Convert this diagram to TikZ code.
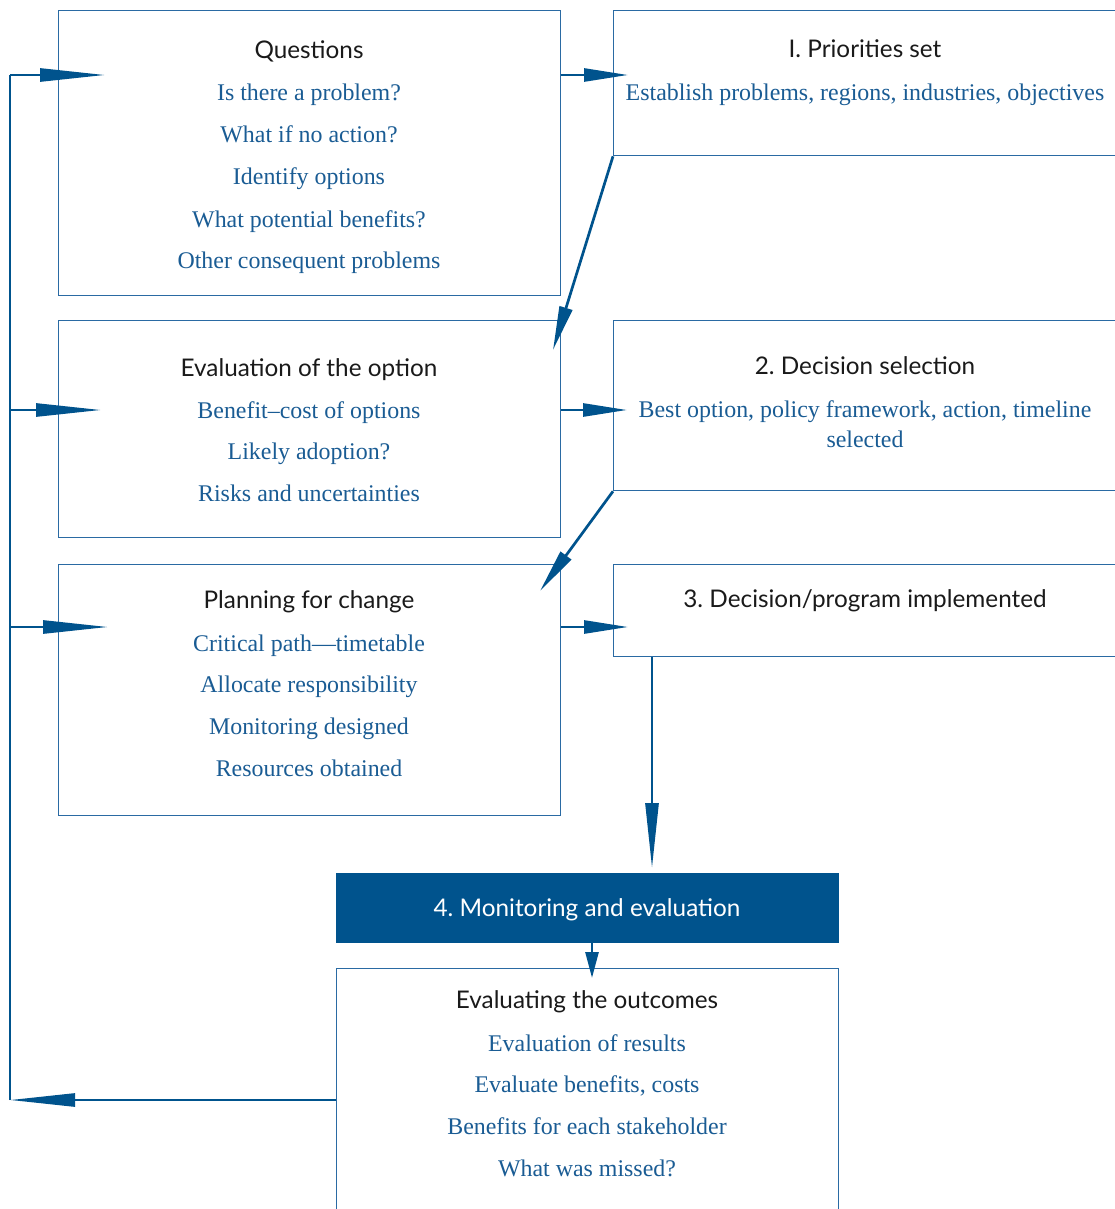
\documentclass[tikz,border=0pt]{standalone}
\usepackage{fontspec}
\setmainfont{Liberation Serif}
\newfontfamily\headfont{Lato}
\usetikzlibrary{arrows.meta}
\definecolor{dblue}{HTML}{00538D}
\definecolor{bblue}{HTML}{2A6AA3}
\definecolor{tblue}{HTML}{1A5C94}
\definecolor{hgray}{HTML}{1A1A1A}
\newcommand{\numsp}{\hspace{0.26em}}
\begin{document}
\begin{tikzpicture}[x=1pt,y=-1pt,
  box/.style={draw=bblue, line width=1.3pt, inner sep=0pt, anchor=north west},
  fbox/.style={fill=dblue, draw=dblue, line width=1.3pt, inner sep=0pt, anchor=north west},
  head/.style={font=\headfont\fontsize{24.3}{28}\selectfont, text=hgray, inner sep=0pt, anchor=base},
  body/.style={font=\fontsize{23.9}{28}\selectfont, text=tblue, inner sep=0pt, anchor=base},
  wire/.style={draw=dblue, line width=2.7pt},
  sarr/.style={wire, -{Triangle[length=44pt,width=13pt]}},
  larr/.style={wire, -{Triangle[length=65pt,width=13pt]}},
  marr/.style={wire, -{Triangle[length=26pt,width=13pt]}}]
\useasboundingbox (0,0) rectangle (1115,1209);
\clip (0,0) rectangle (1115,1209);
\fill[white] (0,0) rectangle (1115,1209);

% boxes
\node[box, minimum width=502pt, minimum height=285pt] (q) at (58,10) {};
\node[box, minimum width=520pt, minimum height=145pt] (p1) at (613,10) {};
\node[box, minimum width=502pt, minimum height=217pt] (ev) at (58,320) {};
\node[box, minimum width=520pt, minimum height=170pt] (p2) at (613,320) {};
\node[box, minimum width=502pt, minimum height=251pt] (pl) at (58,564) {};
\node[box, minimum width=520pt, minimum height=92pt] (p3) at (613,564) {};
\node[fbox, minimum width=502pt, minimum height=69pt] (mo) at (336,873) {};
\node[box, minimum width=502pt, minimum height=280pt] (eo) at (336,968) {};

% Questions
\node[head] (qh) at (309,59) {Questions};
\node[body] (q1) at (309,101) {Is there a problem?};
\node[body] (q2) at (309,143) {What if no action?};
\node[body] (q3) at (309,185) {Identify options};
\node[body] (q4) at (309,227) {What potential benefits?};
\node[body] (q5) at (309,268) {Other consequent problems};
% Priorities
\node[head] (p1h) at (865,58) {I.\numsp Priorities set};
\node[body] (p1a) at (865,101) {Establish problems, regions, industries, objectives};
% Evaluation
\node[head] (evh) at (309,376) {Evaluation of the option};
\node[body] (ev1) at (309,418) {Benefit–cost of options};
\node[body] (ev2) at (309,459) {Likely adoption?};
\node[body] (ev3) at (309,501) {Risks and uncertainties};
% Decision selection
\node[head] (p2h) at (865,374) {2.\numsp Decision selection};
\node[body] (p2a) at (865,417) {Best option, policy framework, action, timeline};
\node[body] (p2b) at (865,447) {selected};
% Planning
\node[head] (plh) at (309,608) {Planning for change};
\node[body] (pl1) at (309,651) {Critical path—timetable};
\node[body] (pl2) at (309,692) {Allocate responsibility};
\node[body] (pl3) at (309,734) {Monitoring designed};
\node[body] (pl4) at (309,776) {Resources obtained};
% Implemented
\node[head] (p3h) at (865,607) {3.\numsp Decision/program implemented};
% Monitoring
\node[head, text=white] (moh) at (587,916) {4.\numsp Monitoring and evaluation};
% Outcomes
\node[head] (eoh) at (587,1008) {Evaluating the outcomes};
\node[body] (eo1) at (587,1051) {Evaluation of results};
\node[body] (eo2) at (587,1092) {Evaluate benefits, costs};
\node[body] (eo3) at (587,1134) {Benefits for each stakeholder};
\node[body] (eo4) at (587,1176) {What was missed?};

% coordinates
\coordinate (LT) at (10,75);
\coordinate (LB) at (10,1100);
\coordinate (t1) at (105,75);
\coordinate (L2) at (10,410);
\coordinate (t2) at (101,410);
\coordinate (L3) at (10,627);
\coordinate (t3) at (108,627);
\coordinate (r1) at (628,75);
\coordinate (r2) at (627,410);
\coordinate (r3) at (628,627);
\coordinate (d1) at (553,350);
\coordinate (d2) at (540,591);
\coordinate (v3) at (652,868);

% connectors
\draw[wire] (LB) -- (LT);
\draw[larr] (LT) -- (t1);
\draw[larr] (L2) -- (t2);
\draw[larr] (L3) -- (t3);
\draw[larr] (eo.west |- LB) -- (LB);
\draw[sarr] (q.east |- r1) -- (r1);
\draw[sarr] (ev.east |- r2) -- (r2);
\draw[sarr] (pl.east |- r3) -- (r3);
\draw[sarr] (p1.south west) -- (d1);
\draw[sarr] (p2.south west) -- (d2);
\draw[larr] (p3.south -| v3) -- (v3);
\draw[marr] (mo.south -| 592,0) -- ([yshift=-10pt]eo.north -| 592,0);
\end{tikzpicture}
\end{document}
